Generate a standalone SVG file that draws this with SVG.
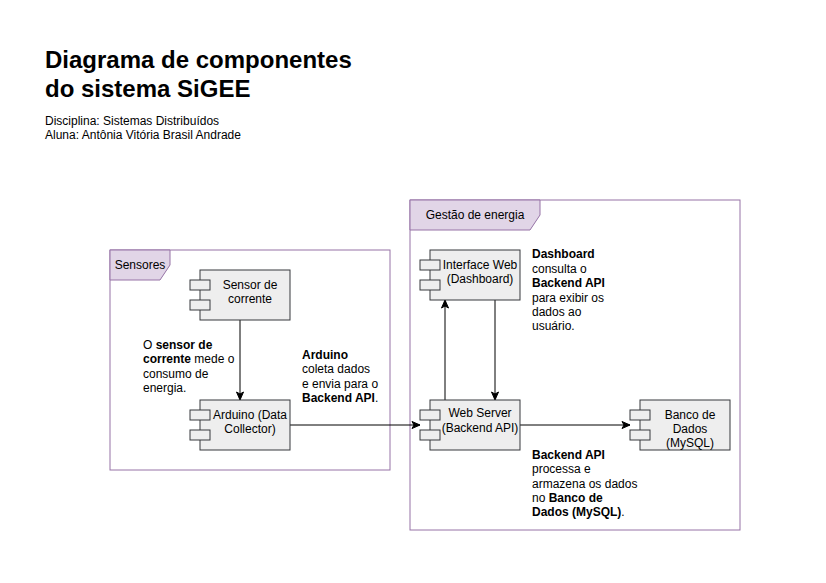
<svg xmlns="http://www.w3.org/2000/svg" width="826" height="583" viewBox="0 0 826 583">
<style>
text{font-family:"Liberation Sans",Arial,Helvetica,sans-serif;font-size:12px;fill:#000}
.title{font-size:24px;font-weight:bold}
.b{font-weight:bold}
.frame{fill:none;stroke:#9673a6;stroke-width:1}
.tab{fill:#e1d5e7;stroke:#9673a6;stroke-width:1}
.comp{fill:#eeeeee;stroke:#36393d;stroke-width:1}
.edge{fill:none;stroke:#000;stroke-width:1}
.c{text-anchor:middle}
</style>
<defs>
<marker id="arr" markerUnits="userSpaceOnUse" markerWidth="10" markerHeight="10" viewBox="0 0 10 10" refX="9" refY="5" orient="auto">
<path d="M1,1.5 L9,5 L1,8.5 L3,5 Z" fill="#000" stroke="#000" stroke-width="1"/>
</marker>
</defs>
<rect width="826" height="583" fill="#ffffff"/>

<g id="title">
<text class="title" x="45" y="68">Diagrama de componentes</text>
<text class="title" x="45" y="96.5">do sistema SiGEE</text>
<text x="45" y="124.5">Disciplina: Sistemas Distribuídos</text>
<text x="45" y="139">Aluna: Antônia Vitória Brasil Andrade</text>
</g>

<g id="frame-sensores">
<rect class="frame" x="110" y="250" width="280" height="220"/>
<path class="tab" d="M110,250 H170 V265 L160,280 H110 Z"/>
<text class="c" x="140" y="269">Sensores</text>
</g>

<g id="frame-gestao">
<rect class="frame" x="410" y="200" width="330" height="330"/>
<path class="tab" d="M410,200 H540 V215 L530,230 H410 Z"/>
<text class="c" x="475" y="219">Gestão de energia</text>
</g>

<g id="connectors">
<path class="edge" d="M240,320 V400" marker-end="url(#arr)"/>
<path class="edge" d="M290,425 H420" marker-end="url(#arr)"/>
<path class="edge" d="M445,400 V300" marker-end="url(#arr)"/>
<path class="edge" d="M495,300 V400" marker-end="url(#arr)"/>
<path class="edge" d="M520,425 H630" marker-end="url(#arr)"/>
</g>

<g id="sensor">
<rect class="comp" x="200" y="270" width="90" height="50"/>
<rect class="comp" x="190" y="280" width="20" height="10"/>
<rect class="comp" x="190" y="300" width="20" height="10"/>
<text class="c" x="250" y="288.5">Sensor de</text>
<text class="c" x="250" y="303">corrente</text>
</g>

<g id="arduino">
<rect class="comp" x="200" y="400" width="90" height="50"/>
<rect class="comp" x="190" y="410" width="20" height="10"/>
<rect class="comp" x="190" y="430" width="20" height="10"/>
<text class="c" x="250" y="418.5">Arduino (Data</text>
<text class="c" x="250" y="433">Collector)</text>
</g>

<g id="interface-web">
<rect class="comp" x="430" y="250" width="90" height="50"/>
<rect class="comp" x="420" y="260" width="20" height="10"/>
<rect class="comp" x="420" y="280" width="20" height="10"/>
<text class="c" x="480" y="268.5">Interface Web</text>
<text class="c" x="480" y="283">(Dashboard)</text>
</g>

<g id="web-server">
<rect class="comp" x="430" y="400" width="90" height="50"/>
<rect class="comp" x="420" y="410" width="20" height="10"/>
<rect class="comp" x="420" y="430" width="20" height="10"/>
<text class="c" x="480" y="417">Web Server</text>
<text class="c" x="480" y="431.5">(Backend API)</text>
</g>

<g id="banco">
<rect class="comp" x="640" y="400" width="90" height="50"/>
<rect class="comp" x="630" y="410" width="20" height="10"/>
<rect class="comp" x="630" y="430" width="20" height="10"/>
<text class="c" x="690" y="418.5">Banco de</text>
<text class="c" x="690" y="433">Dados</text>
<text class="c" x="690" y="447">(MySQL)</text>
</g>

<g id="note-sensor">
<text x="143" y="348.5">O <tspan class="b">sensor de</tspan></text>
<text x="143" y="363"><tspan class="b">corrente</tspan> mede o</text>
<text x="143" y="377.5">consumo de</text>
<text x="143" y="392">energia.</text>
</g>

<g id="note-arduino">
<text class="b" x="302" y="358.5">Arduino</text>
<text x="302" y="373">coleta dados</text>
<text x="302" y="387.5">e envia para o</text>
<text x="302" y="401.5"><tspan class="b">Backend API</tspan>.</text>
</g>

<g id="note-dashboard">
<text class="b" x="532" y="258">Dashboard</text>
<text x="532" y="272.5">consulta o</text>
<text class="b" x="532" y="287">Backend API</text>
<text x="532" y="301.5">para exibir os</text>
<text x="532" y="316">dados ao</text>
<text x="532" y="330">usuário.</text>
</g>

<g id="note-backend">
<text class="b" x="532" y="458.5">Backend API</text>
<text x="532" y="473">processa e</text>
<text x="532" y="487.5">armazena os dados</text>
<text x="532" y="502">no <tspan class="b">Banco de</tspan></text>
<text x="532" y="516"><tspan class="b">Dados (MySQL)</tspan>.</text>
</g>
</svg>
